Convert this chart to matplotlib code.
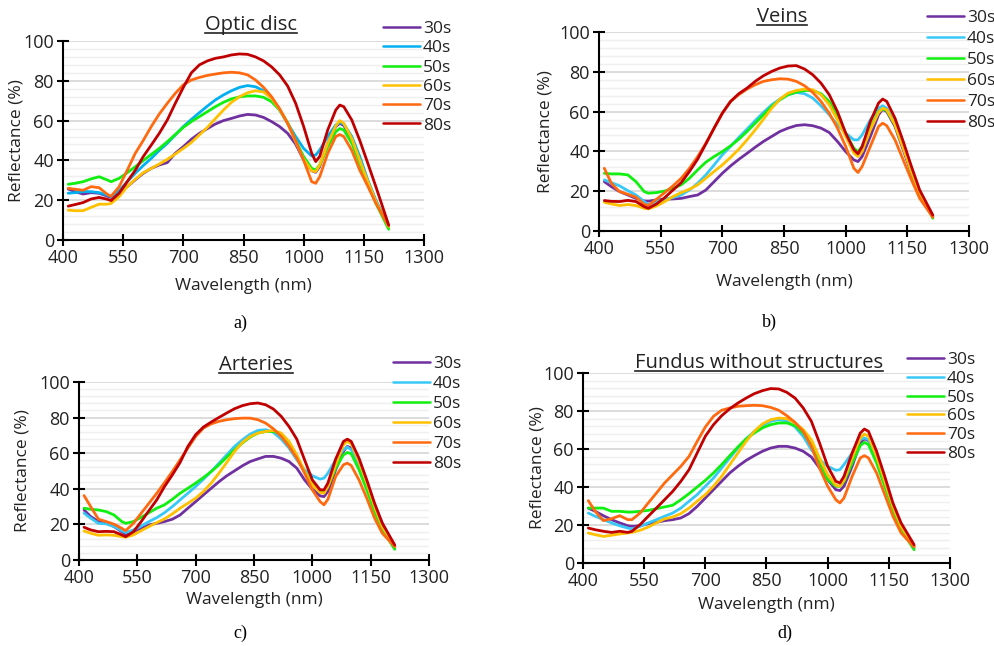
import matplotlib
matplotlib.use("Agg")
import matplotlib.pyplot as plt
from matplotlib.ticker import MultipleLocator
from matplotlib.lines import Line2D

# ---------------- data ----------------
WL = [413, 430, 450, 470, 490, 510, 520, 540, 560, 580, 600, 620, 640, 660, 680,
      700, 720, 740, 760, 780, 800, 820, 840, 860, 880, 900, 920, 940, 960, 980,
      1000, 1020, 1030, 1040, 1060, 1080, 1090, 1100, 1120, 1140, 1160, 1180, 1212]

LABELS = ["30s", "40s", "50s", "60s", "70s", "80s"]
XTICKS = [400, 550, 700, 850, 1000, 1150, 1300]
YTICKS = [0, 20, 40, 60, 80, 100]

# a) Optic disc
optic_30 = [25.6, 24.3, 23.1, 23.8, 23.5, 22.1, 21.4, 23.8, 26.8, 30.2, 33.5, 36.0, 37.7, 38.9, 43.6,
            46.9, 50.6, 53.6, 56.0, 58.3, 60.0, 61.1, 62.3, 63.1, 62.8, 61.6, 59.5, 57.0, 53.6, 48.2,
            40.2, 34.8, 34.0, 36.9, 48.6, 57.0, 58.6, 57.6, 50.2, 40.2, 29.3, 19.3, 7.0]
optic_40 = [23.5, 23.8, 24.3, 24.3, 23.8, 22.6, 21.8, 24.8, 29.3, 33.5, 37.4, 41.0, 45.0, 48.6, 52.8,
            57.0, 60.6, 64.0, 67.3, 70.4, 72.9, 75.0, 76.7, 77.6, 77.0, 75.0, 71.2, 65.3, 58.6, 52.0,
            46.0, 42.2, 42.7, 45.2, 52.0, 57.8, 59.0, 58.3, 52.0, 41.9, 30.0, 20.0, 6.7]
optic_50 = [28.0, 28.5, 29.3, 30.7, 31.8, 30.2, 29.3, 31.0, 33.8, 36.8, 39.9, 43.0, 46.0, 49.4, 53.0,
            56.6, 59.5, 62.0, 64.5, 67.0, 69.2, 70.9, 71.9, 72.4, 72.4, 71.7, 69.5, 65.3, 59.0, 50.0,
            41.9, 36.0, 35.2, 37.7, 46.9, 54.4, 56.0, 55.3, 48.6, 38.5, 28.5, 18.4, 5.4]
optic_60 = [15.0, 14.7, 14.7, 16.4, 18.0, 18.0, 18.4, 21.8, 26.8, 30.5, 33.8, 36.0, 38.2, 40.5, 43.2,
            46.0, 49.0, 52.8, 56.6, 61.0, 65.3, 69.2, 72.0, 74.0, 75.0, 74.4, 71.2, 65.6, 58.6, 49.4,
            40.5, 34.8, 34.3, 37.7, 48.6, 57.3, 60.0, 58.6, 51.0, 40.0, 29.3, 19.3, 6.7]
optic_70 = [26.0, 25.5, 25.0, 26.8, 26.3, 23.0, 22.0, 26.8, 35.0, 43.5, 50.0, 57.0, 63.3, 68.7, 73.7,
            78.0, 80.4, 81.7, 82.7, 83.4, 84.0, 84.3, 84.0, 83.0, 80.4, 76.7, 72.0, 66.0, 58.6, 50.0,
            40.0, 29.3, 28.5, 31.8, 43.5, 52.0, 53.0, 52.0, 45.0, 35.0, 27.0, 18.4, 7.0]
optic_80 = [17.0, 17.8, 18.8, 20.6, 21.4, 20.5, 19.8, 23.5, 29.3, 35.0, 41.9, 47.7, 53.6, 60.3, 68.7,
            76.7, 84.0, 88.0, 90.0, 91.3, 92.0, 93.0, 93.5, 93.3, 92.0, 90.0, 87.0, 83.0, 77.4, 68.7,
            57.0, 43.6, 39.4, 42.0, 55.3, 65.3, 67.8, 67.0, 60.3, 50.0, 38.5, 26.8, 7.5]

# b) Veins
veins_30 = [24.8, 22.3, 19.8, 18.1, 16.4, 15.1, 15.0, 15.6, 16.0, 16.1, 16.4, 17.3, 18.1, 20.6, 24.8,
            29.0, 32.7, 36.0, 39.0, 42.1, 45.0, 47.5, 50.0, 51.7, 53.0, 53.4, 52.9, 51.7, 49.5, 45.0,
            39.9, 35.7, 34.9, 37.4, 47.5, 58.4, 61.2, 60.0, 52.5, 40.8, 29.0, 19.0, 7.2]
veins_40 = [25.7, 24.3, 22.7, 20.3, 18.1, 14.8, 13.1, 14.8, 16.0, 16.8, 18.1, 20.6, 24.0, 28.2, 33.2,
            38.3, 42.5, 47.0, 51.2, 55.5, 59.6, 63.4, 66.3, 68.5, 69.6, 69.0, 66.8, 62.9, 58.4, 53.4,
            49.2, 45.8, 45.8, 48.3, 55.9, 61.7, 62.9, 61.7, 54.2, 42.4, 29.9, 19.0, 7.2]
veins_50 = [29.0, 28.7, 28.7, 28.2, 24.8, 19.8, 19.0, 19.3, 20.1, 21.5, 23.2, 26.5, 30.7, 34.6, 37.4,
            39.9, 42.8, 46.1, 50.0, 54.2, 58.4, 62.6, 65.9, 68.5, 69.8, 70.6, 70.6, 69.0, 65.1, 58.4,
            49.2, 41.6, 39.9, 42.5, 51.7, 60.0, 61.2, 60.6, 53.4, 42.4, 29.9, 19.0, 6.4]
veins_60 = [14.4, 13.6, 12.8, 13.3, 12.8, 11.4, 11.1, 12.6, 14.8, 17.3, 19.3, 21.0, 23.2, 26.5, 29.9,
            33.2, 37.0, 41.1, 45.8, 50.8, 56.2, 61.7, 66.3, 69.3, 70.6, 71.3, 71.0, 68.5, 63.4, 55.9,
            47.5, 39.1, 37.4, 39.9, 50.8, 59.6, 61.7, 60.9, 53.4, 41.6, 29.9, 19.0, 7.2]
veins_70 = [31.5, 24.0, 19.8, 18.5, 17.0, 13.4, 12.8, 16.0, 19.3, 22.7, 26.5, 31.5, 37.4, 44.1, 51.7,
            59.2, 65.1, 68.5, 71.3, 73.5, 75.2, 76.0, 76.5, 76.3, 75.2, 73.0, 69.6, 65.1, 59.2, 51.7,
            42.5, 31.5, 29.4, 32.4, 42.5, 52.5, 54.2, 52.9, 45.8, 35.7, 25.7, 16.4, 6.9]
veins_80 = [15.3, 14.9, 14.8, 15.4, 14.8, 12.2, 11.4, 13.6, 16.8, 20.6, 24.3, 29.9, 36.1, 43.8, 51.7,
            59.2, 65.1, 69.0, 71.8, 75.2, 78.0, 80.2, 81.9, 82.9, 83.1, 81.4, 78.5, 74.3, 68.5, 60.0,
            49.2, 40.8, 38.8, 42.4, 55.0, 64.3, 66.3, 65.1, 56.7, 45.0, 32.4, 20.6, 8.0]

# c) Arteries
art_30 = [28.1, 24.4, 21.6, 20.6, 18.8, 15.9, 14.6, 15.9, 17.8, 19.7, 20.6, 21.6, 22.9, 25.3, 29.1,
          32.8, 36.6, 40.3, 44.0, 47.3, 50.1, 52.9, 55.3, 56.8, 58.2, 58.2, 57.2, 55.3, 51.6, 45.0,
          39.8, 36.0, 35.6, 38.5, 50.7, 61.0, 63.8, 62.9, 54.4, 43.2, 31.0, 20.6, 7.5]
art_40 = [26.3, 23.5, 20.6, 20.3, 18.8, 16.5, 15.4, 16.9, 19.1, 21.6, 23.8, 26.6, 30.0, 33.8, 37.5,
          41.3, 45.4, 49.7, 54.4, 59.1, 63.8, 67.5, 70.7, 72.8, 73.2, 71.7, 67.9, 62.9, 56.3, 50.7,
          47.3, 45.4, 46.0, 48.8, 56.3, 61.9, 63.4, 61.9, 53.5, 41.3, 29.1, 18.8, 7.5]
art_50 = [29.1, 28.5, 28.1, 27.2, 25.3, 21.6, 20.6, 21.6, 24.0, 26.6, 29.1, 31.0, 34.1, 37.5, 40.3,
          43.2, 46.3, 49.7, 53.5, 57.8, 61.9, 65.7, 69.0, 71.3, 72.2, 72.2, 70.7, 66.0, 58.5, 49.7,
          43.2, 38.5, 37.9, 41.3, 51.6, 59.1, 60.4, 59.7, 50.7, 39.4, 27.2, 16.9, 6.0]
art_60 = [16.3, 15.0, 13.9, 14.1, 13.9, 13.1, 12.8, 14.1, 16.5, 18.8, 21.0, 23.1, 25.9, 29.1, 31.9,
          34.7, 38.5, 43.2, 48.8, 54.8, 61.0, 66.0, 69.4, 71.3, 72.2, 72.8, 71.3, 66.6, 59.1, 49.7,
          42.2, 37.9, 37.5, 41.3, 53.5, 64.7, 66.6, 65.3, 55.3, 43.2, 30.0, 18.8, 7.5]
art_70 = [36.2, 30.0, 22.9, 21.6, 20.1, 17.8, 16.5, 20.6, 26.3, 31.9, 37.5, 43.5, 49.7, 56.3, 62.9,
          69.4, 74.1, 76.5, 77.9, 78.8, 79.4, 79.7, 79.7, 78.8, 76.9, 73.7, 69.4, 63.8, 57.2, 48.8,
          39.4, 32.8, 31.0, 34.1, 46.9, 53.5, 54.4, 53.1, 45.0, 34.7, 23.5, 15.0, 7.5]
art_80 = [18.4, 16.9, 15.9, 16.1, 15.9, 14.1, 13.1, 15.9, 21.6, 27.8, 33.8, 41.3, 47.8, 54.8, 63.8,
          70.4, 74.7, 77.5, 80.1, 82.6, 85.0, 86.7, 87.8, 88.2, 87.2, 84.8, 80.7, 75.0, 67.9, 56.3,
          45.0, 39.4, 39.4, 43.2, 56.7, 66.6, 67.9, 66.6, 57.2, 45.0, 31.9, 20.6, 8.4]

# d) Fundus without structures
fund_30 = [28.9, 27.2, 24.9, 22.8, 21.1, 19.6, 19.3, 19.6, 20.7, 21.4, 22.3, 22.8, 23.7, 26.0, 29.8,
           34.2, 38.6, 43.0, 47.4, 50.9, 54.0, 56.5, 58.8, 60.5, 61.4, 61.4, 60.5, 58.8, 55.8, 50.0,
           43.9, 38.6, 38.1, 40.4, 50.9, 63.2, 65.4, 64.4, 54.4, 42.1, 29.8, 19.3, 8.8]
fund_40 = [26.3, 24.6, 22.8, 21.1, 19.6, 18.4, 17.9, 19.3, 21.1, 22.8, 24.6, 26.3, 28.9, 32.5, 36.0,
           40.4, 44.7, 50.0, 55.3, 60.5, 65.3, 69.3, 72.3, 74.6, 75.4, 74.6, 71.6, 66.7, 59.6, 54.4,
           50.9, 48.8, 49.1, 51.8, 57.9, 64.9, 65.8, 64.9, 55.3, 42.1, 28.9, 18.4, 7.9]
fund_50 = [28.9, 28.9, 28.9, 27.2, 27.2, 26.8, 26.8, 27.2, 27.7, 28.6, 29.5, 30.4, 33.3, 36.5, 40.0,
           43.5, 47.4, 51.8, 56.5, 61.1, 65.3, 68.4, 71.1, 72.8, 73.7, 73.7, 72.3, 68.4, 62.3, 52.6,
           43.9, 40.4, 40.4, 43.0, 52.6, 61.8, 63.5, 62.3, 52.6, 40.4, 28.1, 17.5, 7.0]
fund_60 = [15.8, 14.9, 14.0, 14.6, 15.3, 15.8, 16.1, 17.2, 18.9, 21.1, 23.2, 24.2, 26.0, 28.9, 32.5,
           36.0, 40.4, 45.6, 51.8, 57.9, 64.0, 69.3, 73.2, 75.4, 76.3, 76.0, 73.7, 70.2, 64.9, 55.3,
           46.5, 40.9, 40.4, 43.5, 55.3, 65.8, 67.9, 66.7, 56.1, 43.0, 29.8, 19.3, 8.8]
fund_70 = [32.8, 27.2, 22.3, 23.3, 24.9, 22.8, 22.8, 26.3, 31.6, 36.8, 42.1, 46.5, 50.9, 56.1, 64.0,
           71.6, 77.2, 80.4, 81.6, 82.5, 82.8, 83.0, 82.8, 81.9, 80.4, 77.5, 74.0, 69.3, 61.4, 50.0,
           40.4, 33.3, 31.6, 34.2, 45.6, 55.3, 56.5, 55.3, 47.4, 36.0, 24.6, 15.8, 8.4]
fund_80 = [18.4, 17.5, 16.7, 16.1, 16.7, 16.1, 16.7, 20.2, 24.6, 28.9, 33.3, 37.7, 43.0, 49.1, 57.9,
           66.7, 72.8, 77.5, 81.2, 84.2, 86.8, 89.1, 90.7, 91.8, 91.6, 89.8, 86.8, 81.6, 74.6, 63.2,
           50.9, 43.0, 42.1, 45.6, 57.9, 68.4, 70.5, 69.3, 58.8, 45.6, 31.6, 21.1, 9.6]

# ---------------- style ----------------
COLORS_A = ["#7030A0", "#00B0F0", "#10F010", "#FFC000", "#FF6A10", "#C00000"]
COLORS_B = ["#7030A0", "#38C8F8", "#10F010", "#FFC000", "#FF6A10", "#C00000"]
FONT = "Open Sans"
TXT = "#222222"
W, H = 995, 646

fig = plt.figure(figsize=(W / 100, H / 100), dpi=100)
fig.patch.set_facecolor("white")


def px(x, y):
    return x / W, 1 - y / H


def panel(rect, series, colors, title, title_x, title_base, leg_xy, leg_space, caption, cap_xy,
          ylab_x, xlab_y):
    l, t, r, b = rect
    x0, y0 = px(l, b)
    x1, y1 = px(r, t)
    ax = fig.add_axes([x0, y0, x1 - x0, y1 - y0])
    for lab, vals, col in zip(LABELS, series, colors):
        ax.plot(WL, vals, color=col, lw=2.0, label=lab, solid_capstyle="round",
                solid_joinstyle="round")
    ax.set_xlim(400, 1300)
    ax.set_ylim(0, 100)
    ax.set_xticks(XTICKS)
    ax.set_yticks(YTICKS)
    ax.yaxis.set_minor_locator(MultipleLocator(4))
    ax.grid(axis="y", which="major", color="#d9d9d9", lw=1.3)
    ax.grid(axis="y", which="minor", color="#efefef", lw=1.0)
    ax.set_axisbelow(True)
    for s in ("top", "right"):
        ax.spines[s].set_visible(False)
    for s in ("left", "bottom"):
        ax.spines[s].set_linewidth(1.5)
        ax.spines[s].set_color("black")
    ax.tick_params(which="major", direction="inout", length=9, width=1.5,
                   labelsize=13, pad=2, colors="black", labelcolor=TXT)
    ax.tick_params(which="minor", length=0)
    for lbl in ax.get_xticklabels() + ax.get_yticklabels():
        lbl.set_fontfamily(FONT)

    # axis titles
    fig.text(*px(ylab_x, (t + b) / 2), "Reflectance (%)", rotation=90, ha="center",
             va="center", fontsize=12.5, family=FONT, color=TXT)
    fig.text(*px((l + r) / 2, xlab_y), "Wavelength (nm)", ha="center", va="center",
             fontsize=12.5, family=FONT, color=TXT)

    lx, ly = px(*leg_xy)
    leg = ax.legend(loc="upper left", bbox_to_anchor=(lx, ly), bbox_transform=fig.transFigure,
                    frameon=False, handlelength=2.15, handletextpad=0.15, borderpad=0,
                    borderaxespad=0, labelspacing=leg_space,
                    prop={"family": FONT, "size": 12.5})
    for tx in leg.get_texts():
        tx.set_color(TXT)
    for ln in leg.get_lines():
        ln.set_linewidth(1.8)

    tx, ty = px(title_x, title_base)
    ttl = fig.text(tx, ty, title, ha="center", va="baseline", fontsize=14.5,
                   family=FONT, color=TXT)
    fig.canvas.draw()
    bb = ttl.get_window_extent(fig.canvas.get_renderer())
    ux0, uy = px(bb.x0, title_base + 3)
    ux1, _ = px(bb.x1, title_base + 3)
    fig.add_artist(Line2D([ux0, ux1], [uy, uy], transform=fig.transFigure,
                          color=TXT, lw=1.2))

    cx, cy = px(*cap_xy)
    fig.text(cx, cy, caption, ha="center", va="center", fontsize=13,
             family="Liberation Serif", color="black")
    return ax


panel((63, 41, 424, 240), [optic_30, optic_40, optic_50, optic_60, optic_70, optic_80], COLORS_A,
      "Optic disc", 251, 30, (383, 21), 0.18, "a)", (240, 323), 17, 286)
panel((599, 32, 969, 231), [veins_30, veins_40, veins_50, veins_60, veins_70, veins_80], COLORS_B,
      "Veins", 782, 22, (927, 10), 0.28, "b)", (769, 322), 545, 282)
panel((79, 382, 429, 560), [art_30, art_40, art_50, art_60, art_70, art_80], COLORS_B,
      "Arteries", 256, 370, (393, 356), 0.22, "c)", (240, 633), 23, 600)
panel((583, 373, 950, 563), [fund_30, fund_40, fund_50, fund_60, fund_70, fund_80], COLORS_B,
      "Fundus without structures", 759, 368, (907, 352), 0.15, "d)", (785, 633), 537, 605)

fig.savefig("out.png", dpi=100, facecolor="white")
